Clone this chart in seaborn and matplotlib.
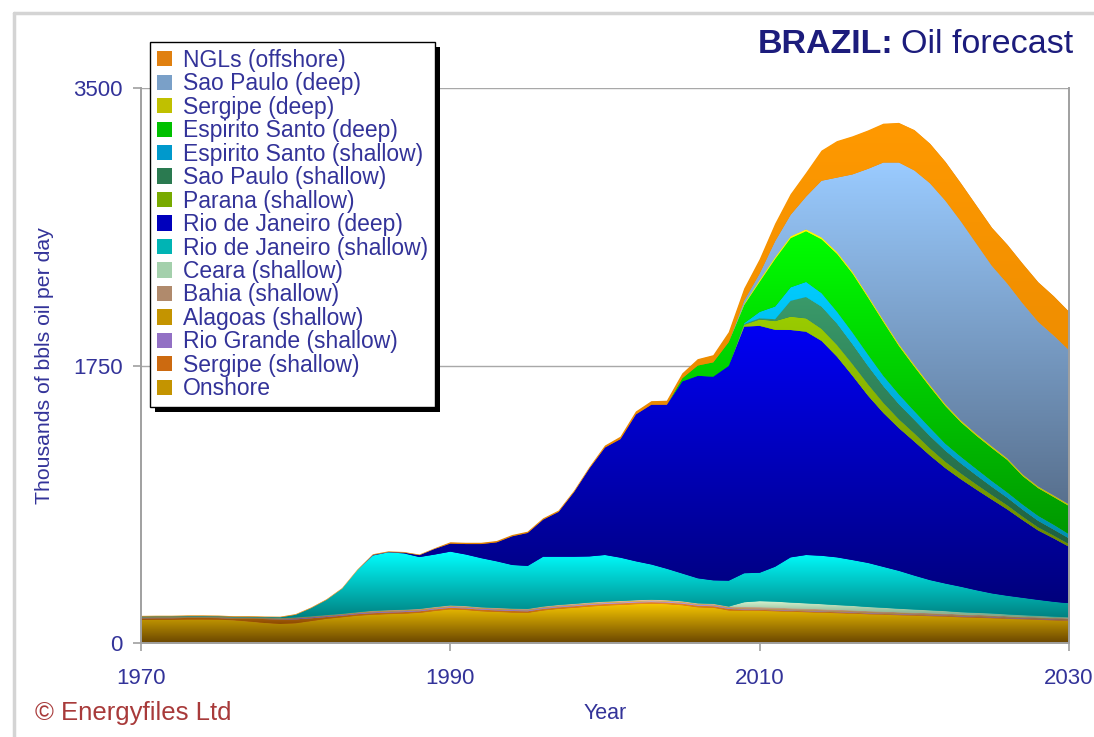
import matplotlib
matplotlib.use("Agg")
import matplotlib.pyplot as plt
import numpy as np
import seaborn as sns
from matplotlib.colors import LinearSegmentedColormap
from matplotlib.lines import Line2D
from matplotlib.patches import Patch, Rectangle

# ---- data (thousand bbl/day), 1970-2030 ----
years = list(range(1970, 2031))

onshore = [145, 146, 146, 148, 148, 147, 143, 135, 126, 120,
           124, 138, 152, 162, 172, 178, 182, 185, 190, 202,
           212, 208, 200, 196, 192, 190, 205, 215, 222, 230,
           236, 240, 245, 248, 245, 238, 225, 222, 205, 204,
           203, 200, 197, 194, 191, 188, 185, 181, 178, 175,
           172, 169, 166, 162, 159, 156, 152, 149, 146, 142,
           139]
sergipe_shallow = [10, 10, 10, 10, 10, 10, 10, 18, 25, 28,
                   25, 18, 12, 10, 10, 10, 10, 10, 10, 10,
                   10, 10, 10, 10, 10, 10, 10, 10, 10, 10,
                   10, 10, 10, 10, 10, 10, 10, 10, 10, 6,
                   6, 6, 6, 6, 6, 6, 6, 5, 5, 5,
                   5, 5, 5, 5, 5, 5, 4, 4, 4, 4,
                   4]
rio_grande = [2, 2, 2, 2, 2, 2, 2, 2, 2, 2,
              6, 6, 6, 6, 6, 6, 6, 6, 6, 6,
              6, 6, 6, 6, 6, 6, 6, 6, 6, 6,
              6, 6, 6, 6, 6, 6, 6, 6, 6, 4,
              4, 4, 4, 4, 4, 4, 4, 4, 4, 4,
              4, 4, 4, 4, 4, 4, 4, 4, 4, 4,
              4]
alagoas = [3] * 61
bahia = [3, 3, 3, 3, 3, 3, 3, 3, 3, 3,
         3, 3, 3, 3, 3, 6, 6, 6, 6, 6,
         6, 6, 6, 6, 6, 6, 6, 6, 6, 6,
         6, 6, 6, 6, 6, 6, 6, 6, 6, 10,
         10, 10, 9, 9, 9, 8, 8, 8, 8, 7,
         7, 7, 7, 6, 6, 6, 6, 5, 5, 5,
         5]
ceara = [0, 0, 0, 0, 0, 0, 0, 0, 0, 0,
         0, 0, 0, 0, 0, 0, 0, 0, 0, 0,
         0, 0, 0, 0, 0, 0, 0, 0, 0, 0,
         0, 0, 0, 0, 0, 0, 0, 0, 0, 30,
         38, 38, 36, 34, 32, 30, 28, 26, 24, 22,
         20, 18, 16, 14, 13, 12, 11, 10, 9, 8,
         7]
rj_shallow = [4, 4, 4, 4, 4, 4, 4, 4, 4, 6,
              17, 52, 96, 158, 266, 349, 365, 355, 327, 331,
              339, 325, 310, 294, 275, 271, 314, 304, 297, 291,
              294, 273, 245, 222, 198, 175, 158, 148, 163, 183,
              179, 220, 285, 305, 305, 301, 289, 278, 258, 239,
              214, 191, 174, 161, 143, 127, 118, 110, 101, 94,
              88]
rj_deep = [0, 0, 0, 0, 0, 0, 0, 0, 0, 0,
           0, 0, 0, 0, 0, 4, 2, 5, 12, 36,
           51, 66, 89, 120, 181, 208, 234, 283, 408, 556,
           678, 748, 927, 1008, 1035, 1212, 1277, 1285, 1355, 1555,
           1557, 1494, 1434, 1408, 1355, 1265, 1162, 1055, 970, 900,
           845, 786, 728, 678, 635, 592, 545, 490, 438, 400,
           357]
parana = [0] * 39 + [12,
          40, 55, 84, 84, 76, 74, 74, 72, 64, 56,
          52, 45, 40, 37, 33, 29, 26, 22, 20, 18,
          17]
sp_shallow = [0] * 39 + [5,
              8, 12, 100, 135, 140, 135, 125, 115, 105, 95,
              85, 78, 70, 63, 57, 52, 48, 44, 41, 38,
              36]
es_shallow = [0] * 39 + [5,
              40, 80, 85, 95, 85, 75, 74, 72, 65, 62,
              55, 52, 44, 42, 40, 36, 33, 32, 31, 30,
              26]
es_deep = [0] * 35 + [20, 65, 90, 150, 115,
           190, 300, 310, 320, 340, 365, 372, 360, 340, 305,
           280, 258, 238, 218, 210, 208, 205, 180, 175, 175,
           178]
sergipe_deep = [0] * 39 + [8,
                12, 12, 12, 12, 12, 12, 12, 12, 12, 12,
                12, 12, 11, 11, 11, 11, 10, 10, 10, 10,
                10]
sp_deep = [0] * 39 + [20,
           40, 100, 135, 206, 357, 469, 613, 799, 994, 1145,
           1226, 1272, 1284, 1256, 1201, 1139, 1103, 1079, 1039, 1009,
           973]
ngls = [4, 4, 4, 4, 4, 4, 4, 4, 4, 4,
        4, 4, 4, 4, 4, 4, 4, 4, 4, 4,
        8, 8, 8, 8, 8, 8, 8, 8, 8, 8,
        12, 15, 18, 22, 25, 30, 40, 45, 62, 75,
        90, 110, 130, 150, 190, 230, 240, 242, 245, 250,
        255, 250, 245, 240, 240, 240, 245, 250, 250, 248,
        242]

# name, values, gradient top colour, gradient bottom colour, legend swatch
layers = [
    ("Onshore", onshore, "#f8c800", "#6a4600", "#c49400"),
    ("Sergipe (shallow)", sergipe_shallow, "#f08a20", "#8a4a00", "#cc6a10"),
    ("Rio Grande (shallow)", rio_grande, "#c4a4f4", "#6a4a90", "#9270c4"),
    ("Alagoas (shallow)", alagoas, "#f8c800", "#7a5a00", "#c49400"),
    ("Bahia (shallow)", bahia, "#f2c4a4", "#8a6a50", "#b08a6c"),
    ("Ceara (shallow)", ceara, "#dcf8d4", "#6a9a7a", "#a4d0ac"),
    ("Rio de Janeiro (shallow)", rj_shallow, "#00ffff", "#008080", "#00b4b4"),
    ("Rio de Janeiro (deep)", rj_deep, "#0000f4", "#00007c", "#0000bc"),
    ("Parana (shallow)", parana, "#9acc00", "#6a8800", "#78aa00"),
    ("Sao Paulo (shallow)", sp_shallow, "#3a9a6a", "#1f6040", "#2a7a50"),
    ("Espirito Santo (shallow)", es_shallow, "#00ccff", "#0090b0", "#0099cc"),
    ("Espirito Santo (deep)", es_deep, "#00ff00", "#009800", "#00c000"),
    ("Sergipe (deep)", sergipe_deep, "#ffff00", "#c0c000", "#c0c000"),
    ("Sao Paulo (deep)", sp_deep, "#9acbff", "#58708e", "#7aa0c8"),
    ("NGLs (offshore)", ngls, "#ff9900", "#dc8000", "#e08010"),
]

TEXT = "#333399"
TITLE = "#1c1c7c"
AXIS = "#a0a0a0"
W, H = 1094, 737

sns.set_theme(style="white")
plt.rcParams["font.family"] = ["Liberation Sans", "DejaVu Sans"]

fig = plt.figure(figsize=(W / 100, H / 100), dpi=100)
ax = fig.add_axes([141 / W, 1 - 643 / H, (1069 - 141) / W, (643 - 88) / H])

polys = ax.stackplot(years, *[l[1] for l in layers],
                     colors=[l[4] for l in layers], linewidth=0, zorder=1)

# vertical gradient per series, clipped to its band
ramp = np.linspace(0, 1, 256).reshape(-1, 1)
base = np.zeros(len(years))
for poly, (name, vals, c_top, c_bot, _) in zip(polys, layers):
    vals = np.asarray(vals, dtype=float)
    upper = base + vals
    on = vals > 0
    lo, hi = base[on].min(), upper[on].max()
    cmap = LinearSegmentedColormap.from_list(name, [c_bot, c_top])
    im = ax.imshow(ramp, cmap=cmap, origin="lower", aspect="auto",
                   extent=[years[0], years[-1], lo, hi],
                   interpolation="bilinear", zorder=1.5)
    im.set_clip_path(poly.get_paths()[0], transform=ax.transData)
    base = upper

ax.set_xlim(1970, 2030)
ax.set_ylim(0, 3500)
ax.set_xticks([1970, 1990, 2010, 2030])
ax.set_yticks([0, 1750, 3500])
ax.yaxis.grid(True, color="#a8a8a8", linewidth=1)
ax.set_axisbelow(True)
sns.despine(ax=ax, top=True, right=False)
for side in ("left", "bottom", "right"):
    ax.spines[side].set_color(AXIS)
    ax.spines[side].set_linewidth(1.4)
ax.tick_params(axis="both", which="major", length=6, width=1.2, color=AXIS,
               labelsize=16, labelcolor=TEXT, pad=7,
               bottom=True, left=True, direction="out")
ax.tick_params(axis="x", pad=12)
ax.set_xlabel("Year", fontsize=15.5, color=TEXT, labelpad=10)
ax.set_ylabel("Thousands of bbls oil per day", fontsize=15.3, color=TEXT, labelpad=14)

# title: bold country name followed by regular text
t_oil = ax.annotate("Oil forecast", xy=(1073 / W, 1 - 53 / H), xycoords="figure fraction",
                    ha="right", va="baseline", fontsize=24.5, color=TITLE, annotation_clip=False)
ax.annotate("BRAZIL:", xy=(0, 0), xycoords=t_oil, xytext=(-5, 0), textcoords="offset points",
            ha="right", va="bottom", fontsize=24.5, fontweight="bold", color=TITLE,
            annotation_clip=False)

fig.text(35 / W, 1 - 713 / H, "\u00a9 Energyfiles Ltd", va="center", ha="left",
         fontsize=18.5, color="#a83a3a")

# legend (top series first), black frame with hard shadow
handles = [Patch(facecolor=l[4], edgecolor="none", label=l[0]) for l in layers[::-1]]
leg = fig.legend(handles=handles, loc="upper left", bbox_to_anchor=(150 / W, 1 - 42 / H),
                 bbox_transform=fig.transFigure, fontsize=16.5, labelcolor=TEXT,
                 frameon=True, fancybox=False, edgecolor="black", framealpha=1,
                 handlelength=0.65, handleheight=0.65, handletextpad=0.5,
                 labelspacing=0.02, borderpad=0.3, borderaxespad=0)
leg.get_frame().set_linewidth(1.0)
leg.set_zorder(6)

fig.canvas.draw()
bb = leg.get_window_extent()
(x0, y0), (x1, y1) = fig.transFigure.inverted().transform([[bb.x0 + 5, bb.y0 - 5], [bb.x1 + 5, bb.y1 - 5]])
fig.add_artist(Rectangle((x0, y0), x1 - x0, y1 - y0, transform=fig.transFigure,
                         facecolor="black", edgecolor="none", zorder=5.5))

# light outer frame of the picture
fx, fy = 14 / W, 1 - 13 / H
fig.add_artist(Line2D([fx, fx], [0, fy], transform=fig.transFigure, color="#d4d4d4", linewidth=2.5))
fig.add_artist(Line2D([fx, 1], [fy, fy], transform=fig.transFigure, color="#d4d4d4", linewidth=2.5))

fig.savefig("out.png", dpi=100)
